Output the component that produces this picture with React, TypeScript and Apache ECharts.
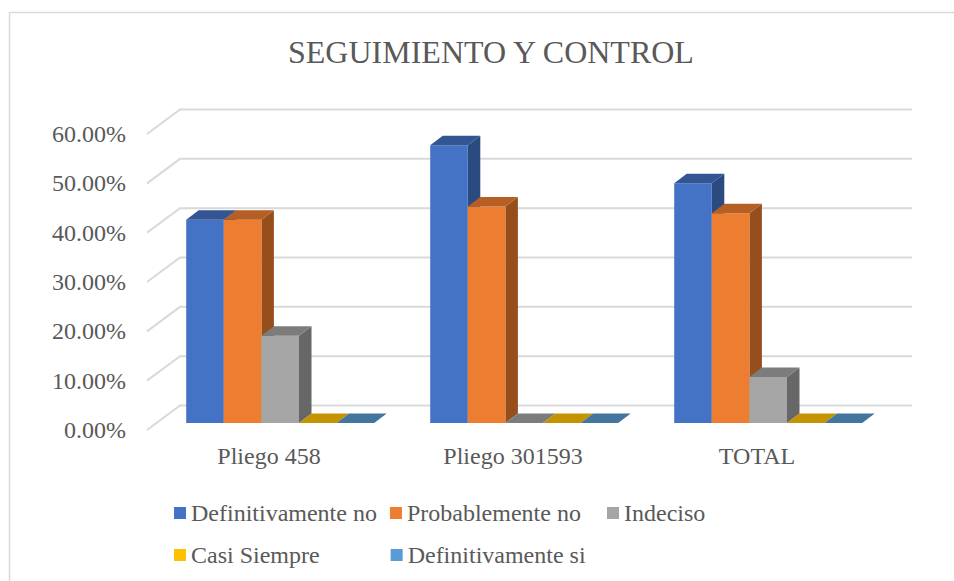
import React, { useEffect, useRef } from "react";
import * as echarts from "echarts";

const categories = ["Pliego 458", "Pliego 301593", "TOTAL"];
const definitivamenteNo = [41.2, 56.3, 48.6];
const probablementeNo = [41.2, 43.9, 42.5];
const indeciso = [17.7, 0, 9.3];
const casiSiempre = [0, 0, 0];
const definitivamenteSi = [0, 0, 0];
const gridTicks = [0, 10, 20, 30, 40, 50, 60];

const FONT = "'Liberation Serif', 'Times New Roman', serif";
const TEXT = "#595959";
const LINE = "#D9D9D9";

const WALL_DX = 33;
const WALL_DY = 24.5;
const BAR_SHIFT_X = 11.2;
const BAR_SHIFT_Y = 7;
const BAR_DX = 12.5;
const BAR_DY = 9.5;
const BAR_RATIO = 37.6 / 244;

const seriesDefs = [
  { name: "Definitivamente no", values: definitivamenteNo, front: "#4472C4", top: "#335593", side: "#2B4A80" },
  { name: "Probablemente no", values: probablementeNo, front: "#ED7D31", top: "#B55F25", side: "#964F1C" },
  { name: "Indeciso", values: indeciso, front: "#A5A5A5", top: "#7C7C7C", side: "#676767" },
  { name: "Casi Siempre", values: casiSiempre, front: "#FFC000", top: "#C49300", side: "#A07A00" },
  { name: "Definitivamente si", values: definitivamenteSi, front: "#5B9BD5", top: "#44759F", side: "#3A6387" },
];

function barRenderer(index: number, def: (typeof seriesDefs)[number]) {
  return (_params: any, api: any) => {
    const cat = api.value(0);
    const val = api.value(1);
    const band = api.size([1, 0])[0];
    const w = band * BAR_RATIO;
    const base = api.coord([cat, 0]);
    const peak = api.coord([cat, val]);
    const x0 = base[0] + (index - 2.5) * w + BAR_SHIFT_X;
    const x1 = x0 + w;
    const yb = base[1] - BAR_SHIFT_Y;
    const yt = peak[1] - BAR_SHIFT_Y;
    const children: any[] = [];
    if (yb - yt > 0.5) {
      children.push({
        type: "polygon",
        shape: { points: [[x1, yt], [x1 + BAR_DX, yt - BAR_DY], [x1 + BAR_DX, yb - BAR_DY], [x1, yb]] },
        style: { fill: def.side },
      });
      children.push({
        type: "rect",
        shape: { x: x0, y: yt, width: w, height: yb - yt },
        style: { fill: def.front },
      });
    }
    children.push({
      type: "polygon",
      shape: { points: [[x0, yt], [x0 + BAR_DX, yt - BAR_DY], [x1 + BAR_DX, yt - BAR_DY], [x1, yt]] },
      style: { fill: def.top },
    });
    return { type: "group", children };
  };
}

function wallRenderer(params: any, api: any) {
  const cs = params.coordSys;
  const p = api.coord([0, api.value(1)]);
  const y = p[1];
  return {
    type: "polyline",
    shape: {
      points: [
        [cs.x, y],
        [cs.x + WALL_DX, y - WALL_DY],
        [cs.x + cs.width + WALL_DX, y - WALL_DY],
      ],
    },
    style: { stroke: LINE, lineWidth: 2, fill: "none" },
  };
}

const legendText = { fontFamily: FONT, fontSize: 24, color: TEXT };
const legendItem = (i: number) => ({
  name: seriesDefs[i].name,
  icon: "rect",
  itemStyle: { color: seriesDefs[i].front },
});
const legendBase = { padding: 0, itemWidth: 12, itemHeight: 12, textStyle: legendText };

export default function App() {
  const ref = useRef<HTMLDivElement>(null);
  useEffect(() => {
    document.body.style.margin = "0";
    const chart = echarts.init(ref.current!, null, { renderer: "svg" });
    chart.setOption({
      animation: false,
      backgroundColor: "#FFFFFF",
      title: {
        text: "SEGUIMIENTO Y CONTROL",
        left: 288,
        top: 36,
        padding: 0,
        textStyle: { fontFamily: FONT, fontSize: 32, fontWeight: "normal", color: TEXT },
      },
      legend: [
        { ...legendBase, left: 174, top: 501, itemGap: 13, data: [legendItem(0), legendItem(1)] },
        { ...legendBase, left: 607, top: 501, data: [legendItem(2)] },
        { ...legendBase, left: 174, top: 543, itemGap: 71, data: [legendItem(3), legendItem(4)] },
      ],
      grid: { left: 147, top: 134, width: 732, height: 296 },
      xAxis: {
        type: "category",
        data: categories,
        axisLine: { show: false },
        axisTick: { show: false },
        axisLabel: { fontFamily: FONT, fontSize: 24, color: TEXT, margin: 14 },
      },
      yAxis: {
        type: "value",
        min: 0,
        max: 60,
        interval: 10,
        splitLine: { show: false },
        axisLine: { show: false },
        axisTick: { show: false },
        axisLabel: {
          fontFamily: FONT,
          fontSize: 24,
          color: TEXT,
          margin: 21,
          formatter: (v: number) => v.toFixed(2) + "%",
        },
      },
      graphic: [
        {
          type: "polyline",
          silent: true,
          shape: { points: [[9.5, 581], [9.5, 12.5], [954, 12.5]] },
          style: { stroke: LINE, lineWidth: 1.5, fill: "none" },
        },
      ],
      series: [
        {
          type: "custom",
          name: "wall",
          silent: true,
          z: 1,
          renderItem: wallRenderer,
          encode: { x: 0, y: 1 },
          data: gridTicks.map((t) => [0, t]),
        },
        ...seriesDefs.map((def, i) => ({
          type: "custom",
          name: def.name,
          z: 2 + i,
          itemStyle: { color: def.front },
          renderItem: barRenderer(i, def),
          encode: { x: 0, y: 1 },
          data: def.values.map((v, c) => [c, v]),
        })),
      ],
    });
    return () => chart.dispose();
  }, []);
  return <div ref={ref} style={{ width: 954, height: 581 }} />;
}
